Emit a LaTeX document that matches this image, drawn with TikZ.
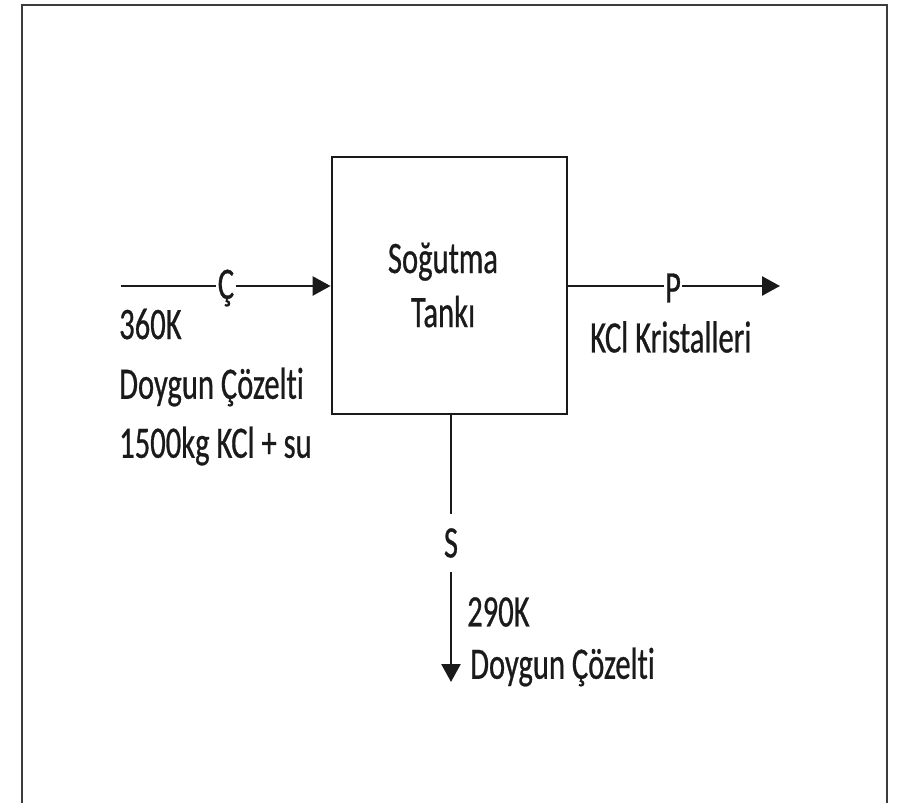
\documentclass[tikz,border=0pt]{standalone}
\usepackage{fontspec}
\setmainfont{Carlito}[FakeStretch=0.68, FakeBold=0.6, Ligatures={NoCommon}]
\usetikzlibrary{arrows.meta}
\definecolor{ink}{HTML}{1A1A1A}
\tikzset{
  flow/.style={draw=ink, line width=2.6pt, -{Triangle[length=18pt,width=19pt]}},
  tank/.style={draw=ink, line width=2.8pt, minimum width=235pt, minimum height=257pt, inner sep=0pt},
  tag/.style={fill=white, inner sep=1.5pt, text=ink, font=\fontsize{45}{48}\selectfont},
  txt/.style={inner sep=0pt, text=ink, font=\fontsize{45}{48}\selectfont, anchor=west},
}
\begin{document}
\begin{tikzpicture}[x=1pt,y=-1pt]
\useasboundingbox (0,0) rectangle (897,803);
\draw[draw=ink!85, line width=2.4pt] (22,803) -- (22,5) -- (887,5) -- (887,803);
\node[tank] (T) at (449.5,285.5) {};
\node[inner sep=0pt, text=ink, font=\fontsize{45}{48}\selectfont, align=center] (Tl) at (443,285) {Soğutma\\[6pt]Tankı};
\coordinate (cin) at (121,286);
\coordinate (pout) at (780,286);
\coordinate (sout) at (451,682);
\draw[flow] (cin) -- (cin -| T.west);
\draw[flow] (T.east |- pout) -- (pout);
\draw[flow] (T.south -| sout) -- (sout);
\node[tag] (C) at (226,288) {Ç};
\node[tag] (P) at (673,288) {P};
\node[tag, inner ysep=14pt] (S) at (451,543) {S};
\node[txt] (t1) at (119,324) {360K};
\node[txt] (t2) at (119,387) {Doygun Çözelti};
\node[txt] (t3) at (119,446) {1500kg KCl + su};
\node[txt] (t4) at (590,337) {KCl Kristalleri};
\node[txt] (t5) at (467,612) {290K};
\node[txt] (t6) at (470,667) {Doygun Çözelti};
\end{tikzpicture}
\end{document}
